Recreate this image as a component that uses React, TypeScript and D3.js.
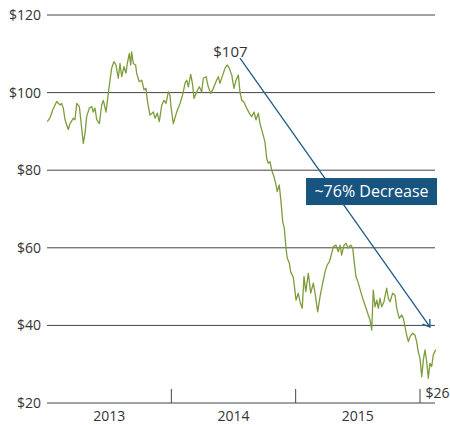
import React from "react";
import * as d3 from "d3";

// Fractional-year positions of the traced daily oil price points
const years = [
  2013.002, 2013.024, 2013.046, 2013.078, 2013.105, 2013.118, 2013.131, 2013.145, 2013.171, 2013.185,
  2013.212, 2013.225, 2013.239, 2013.26, 2013.279, 2013.292, 2013.306, 2013.319, 2013.34, 2013.36,
  2013.372, 2013.386, 2013.4, 2013.421, 2013.44, 2013.453, 2013.475, 2013.493, 2013.507, 2013.52,
  2013.539, 2013.555, 2013.573, 2013.587, 2013.601, 2013.619, 2013.635, 2013.646, 2013.662, 2013.673,
  2013.681, 2013.694, 2013.713, 2013.721, 2013.742, 2013.762, 2013.78, 2013.796, 2013.807, 2013.828,
  2013.855, 2013.869, 2013.887, 2013.903, 2013.923, 2013.941, 2013.957, 2013.976, 2013.989, 2013.997,
  2014.016, 2014.043, 2014.07, 2014.091, 2014.11, 2014.124, 2014.137, 2014.156, 2014.172, 2014.182,
  2014.204, 2014.225, 2014.244, 2014.257, 2014.279, 2014.297, 2014.317, 2014.338, 2014.359, 2014.378,
  2014.391, 2014.413, 2014.432, 2014.45, 2014.466, 2014.486, 2014.504, 2014.52, 2014.539, 2014.552,
  2014.566, 2014.584, 2014.606, 2014.627, 2014.646, 2014.665, 2014.681, 2014.7, 2014.713, 2014.735,
  2014.753, 2014.767, 2014.78, 2014.794, 2014.807, 2014.826, 2014.842, 2014.852, 2014.868, 2014.882,
  2014.896, 2014.909, 2014.922, 2014.933, 2014.949, 2014.96, 2014.981, 2015.003, 2015.021, 2015.035,
  2015.053, 2015.067, 2015.081, 2015.102, 2015.121, 2015.142, 2015.156, 2015.177, 2015.196, 2015.214,
  2015.236, 2015.254, 2015.271, 2015.29, 2015.303, 2015.324, 2015.343, 2015.357, 2015.37, 2015.389,
  2015.405, 2015.423, 2015.443, 2015.459, 2015.472, 2015.485, 2015.504, 2015.523, 2015.544, 2015.566,
  2015.584, 2015.598, 2015.612, 2015.624, 2015.638, 2015.652, 2015.665, 2015.678, 2015.692, 2015.71,
  2015.732, 2015.745, 2015.759, 2015.78, 2015.799, 2015.813, 2015.833, 2015.853, 2015.866, 2015.879,
  2015.893, 2015.906, 2015.92, 2015.941, 2015.96, 2015.973, 2015.986, 2016.0, 2016.014, 2016.027,
  2016.04, 2016.054, 2016.067, 2016.08, 2016.094, 2016.107, 2016.126,
];

const prices = [
  92.5, 93.5, 95.5, 97.7, 96.8, 97.2, 96, 93, 90.5, 92,
  93.4, 93, 97.2, 96.4, 90.8, 86.9, 89.5, 93.8, 96, 96.4,
  95, 96, 93, 92, 96.8, 98, 95, 99.8, 103.2, 106.3,
  108, 107.1, 103.7, 107.5, 104.1, 106.7, 105, 107.5, 110.1, 107.1,
  110.5, 107.5, 107.1, 105, 102.8, 103.2, 100.7, 101.1, 98, 94.2,
  95, 93.4, 94.7, 92.5, 96.8, 98, 97.2, 100.2, 99.4, 96.4,
  92, 95, 97.2, 99.4, 102.4, 103.2, 101.5, 104.7, 101.9, 98.5,
  100.2, 101.5, 100.2, 103.7, 104.1, 101.5, 99.8, 101.1, 102.8, 104.1,
  102.4, 104.5, 106.3, 107.1, 106.3, 104.5, 101.1, 103.2, 104.5, 100.2,
  98, 97.6, 96, 94.7, 93.8, 95, 93, 94.7, 92, 89.5,
  87.3, 83, 81.8, 82.2, 80, 78.3, 76.2, 74.5, 76.2, 71.9,
  66.7, 65, 59.9, 57.3, 56, 53.8, 52.4, 46.5, 48.3, 46.1,
  44.4, 52.6, 48.7, 53.4, 48.3, 50.9, 48.3, 43.5, 47.4, 50.4,
  53.8, 55.6, 56.4, 58.6, 60.3, 60.7, 59, 60.7, 58.1, 60.7,
  61.1, 59.9, 60.7, 59.9, 56, 52.6, 50.9, 48.7, 46.5, 44.4,
  42.7, 41.4, 38.8, 49.1, 44.8, 46.5, 44.4, 47, 44.8, 46.1,
  49.6, 47, 46.1, 48.3, 47.8, 44.4, 41.8, 42.7, 41.8, 39.7,
  37.5, 35.8, 37.1, 38, 37.5, 35.8, 33.2, 31.5, 26.8, 31.1,
  33.7, 30.6, 26.4, 30.2, 29.4, 32.4, 33.7,
];

const yTicks = [20, 40, 60, 80, 100, 120];
const yearBoundaries = [2014, 2015, 2016];
const yearLabels = ["2013", "2014", "2015"];
const yearLabelPositions = [2013.5, 2014.5, 2015.5];

// Annotation anchors (data space)
const peakLabel = { t: 2014.475, v: 107, text: "$107" };
const arrowStart = { t: 2014.552, v: 108.9 };
const arrowEnd = { t: 2016.08, v: 39.6 };
const boxCenter = { t: 2015.61, v: 74.5, text: "~76% Decrease" };
const lowLabel = { t: 2016.013, text: "$26" };

const W = 450;
const H = 425;
const FONT = "'Open Sans', 'Noto Sans', sans-serif";

export default function App() {
  const x = d3.scaleLinear().domain([2013, 2016]).range([47, 420]);
  const y = d3.scaleLinear().domain([20, 120]).range([403, 15]);
  const gridX0 = 47;
  const gridX1 = 435;

  const data = years.map((t, i) => ({ t, v: prices[i] }));
  const line = d3
    .line<{ t: number; v: number }>()
    .x((d) => x(d.t))
    .y((d) => y(d.v));

  const ax0 = x(arrowStart.t);
  const ay0 = y(arrowStart.v);
  const ax1 = x(arrowEnd.t);
  const ay1 = y(arrowEnd.v);
  const ang = Math.atan2(ay1 - ay0, ax1 - ax0);
  const headLen = 8;
  const headSpread = 0.6;
  const h1 = [ax1 - headLen * Math.cos(ang - headSpread), ay1 - headLen * Math.sin(ang - headSpread)];
  const h2 = [ax1 - headLen * Math.cos(ang + headSpread), ay1 - headLen * Math.sin(ang + headSpread)];

  const bx = x(boxCenter.t);
  const by = y(boxCenter.v);
  const bw = 131;
  const bh = 27;

  return (
    <svg
      width={W}
      height={H}
      style={{ position: "absolute", left: 0, top: 0, background: "#fff" }}
      fontFamily={FONT}
    >
      {yTicks.map((v) => (
        <g key={v}>
          <line x1={gridX0} x2={gridX1} y1={y(v)} y2={y(v)} stroke="#444" strokeWidth={1} />
          <text x={41} y={y(v)} dy="0.35em" textAnchor="end" fontSize={14} fill="#333">
            {"$" + v}
          </text>
        </g>
      ))}
      {yearBoundaries.map((t) => (
        <line key={t} x1={x(t)} x2={x(t)} y1={389} y2={403} stroke="#444" strokeWidth={1} />
      ))}
      {yearLabels.map((s, i) => (
        <text key={s} x={x(yearLabelPositions[i])} y={421} textAnchor="middle" fontSize={14} fill="#333">
          {s}
        </text>
      ))}
      <path d={line(data) || ""} fill="none" stroke="#7d9c3c" strokeWidth={1.3} strokeLinejoin="round" />
      <line x1={ax0} y1={ay0} x2={ax1} y2={ay1} stroke="#1f5a8a" strokeWidth={1.3} />
      <polyline
        points={`${h1[0]},${h1[1]} ${ax1},${ay1} ${h2[0]},${h2[1]}`}
        fill="none"
        stroke="#1f5a8a"
        strokeWidth={1.3}
      />
      <text x={x(peakLabel.t)} y={57} textAnchor="middle" fontSize={15} fill="#333">
        {peakLabel.text}
      </text>
      <rect x={bx - bw / 2} y={by - bh / 2} width={bw} height={bh} fill="#17547f" />
      <text x={bx} y={by} dy="0.36em" textAnchor="middle" fontSize={16} fill="#fff">
        {boxCenter.text}
      </text>
      <text x={x(lowLabel.t) + 4} y={398} fontSize={14} fill="#333">
        {lowLabel.text}
      </text>
    </svg>
  );
}
